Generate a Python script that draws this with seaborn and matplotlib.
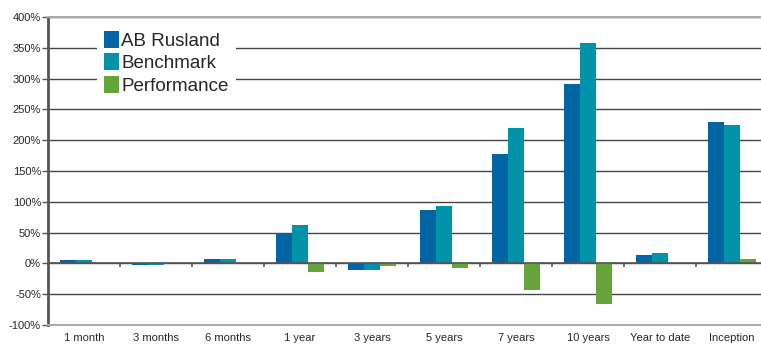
import pandas as pd
import matplotlib
matplotlib.use('Agg')
import matplotlib.pyplot as plt
import seaborn as sns
from matplotlib.ticker import FuncFormatter

periods = ['1 month', '3 months', '6 months', '1 year', '3 years', '5 years',
           '7 years', '10 years', 'Year to date', 'Inception']
ab_rusland = [5, -3, 7, 50, -10, 87, 178, 292, 13, 230]
benchmark = [5, -3, 7, 62, -10, 93, 220, 357, 17, 224]
performance = [0, 0, 0, -14, -4, -7, -43, -66, 0, 7]
series = ['AB Rusland', 'Benchmark', 'Performance']
colors = ['#0064A5', '#0093A9', '#66A33A']

df = pd.DataFrame({
    'period': periods * 3,
    'series': [s for s in series for _ in periods],
    'value': ab_rusland + benchmark + performance,
})

sns.set_style('white')
plt.rcParams['font.family'] = ['Liberation Sans', 'DejaVu Sans']

fig = plt.figure(figsize=(7.61, 3.47), dpi=100)
ax = fig.add_axes([48 / 761, 1 - 325 / 347, 720 / 761, 308 / 347])

sns.barplot(data=df, x='period', y='value', hue='series', palette=colors,
            width=0.68, gap=0, saturation=1, linewidth=0, ax=ax, zorder=3)

ax.set_ylim(-100, 400)
ax.set_xlim(-0.5, 9.5)
ax.set_yticks(range(-100, 401, 50))
ax.yaxis.set_major_formatter(FuncFormatter(lambda v, p: f'{int(v)}%'))
ax.grid(axis='y', color='#444444', lw=1, zorder=0)
ax.axhline(0, color='#555555', lw=1.2, zorder=4)
ax.vlines([i + 0.5 for i in range(len(periods) - 1)], -6, 0,
          color='#555555', lw=1.2, zorder=4)

for side in ['top', 'bottom']:
    ax.spines[side].set_color('#aaaaaa')
    ax.spines[side].set_linewidth(1.5)
ax.spines['left'].set_color('#555555')
ax.spines['left'].set_linewidth(2)
ax.spines['right'].set_visible(False)

ax.tick_params(axis='y', length=4, width=1, color='#555555', labelsize=8,
               pad=1, left=True)
ax.tick_params(axis='x', length=0, labelsize=8, pad=6)
ax.set_xlabel('')
ax.set_ylabel('')

leg = ax.legend(loc='upper left', bbox_to_anchor=(0.055, 1.01), frameon=True,
                fontsize=13.5, handlelength=0.75, handleheight=1.0,
                handletextpad=0.15, labelspacing=0.2, borderpad=0.4)
leg.get_frame().set_facecolor('white')
leg.get_frame().set_edgecolor('none')
leg.get_frame().set_alpha(1)
leg.set_zorder(5)

fig.savefig('out.png', dpi=100)
